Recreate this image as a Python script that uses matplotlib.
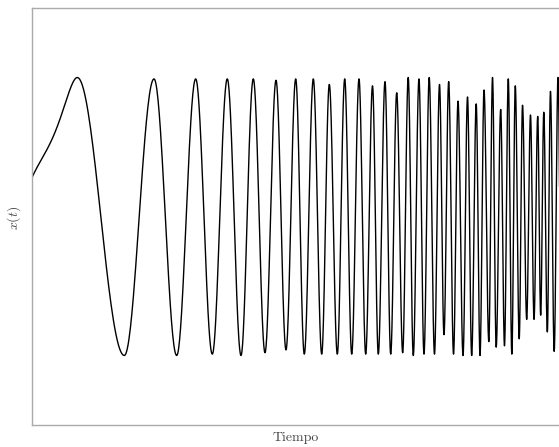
import numpy as np
import matplotlib
matplotlib.use("Agg")
import matplotlib.pyplot as plt

plt.rcParams["mathtext.fontset"] = "cm"
plt.rcParams["font.family"] = ["cmr10", "DejaVu Serif"]
plt.rcParams["axes.unicode_minus"] = False

# Opening rise of the signal: first two points
lead_t = [0.0, 0.24]
lead_x = [0.28, 0.475]

# Successive maxima / minima of the chirp: time and value
ext_t = [0.859, 1.750, 2.313, 2.743, 3.103, 3.418, 3.702, 3.962, 4.195, 4.417,
         4.626, 4.815, 4.999, 5.162, 5.333, 5.492, 5.636, 5.788, 5.928, 6.061,
         6.199, 6.326, 6.455, 6.565, 6.692, 6.800, 6.914, 7.027, 7.132, 7.228,
         7.336, 7.431, 7.530, 7.630, 7.725, 7.810, 7.899, 7.991, 8.076, 8.171,
         8.256, 8.335, 8.421, 8.493, 8.569, 8.660, 8.730, 8.800, 8.885, 8.957,
         9.029, 9.096, 9.162, 9.236, 9.299, 9.378, 9.450, 9.517, 9.587, 9.643,
         9.702, 9.769, 9.829, 9.899, 9.972, 10.038]
ext_x = [1.00, -1.00, 0.99, -1.00, 0.99, -0.99, 0.99, -1.00, 0.99, -0.98,
         0.98, -0.96, 0.99, -0.99, 0.99, -0.99, 0.95, -0.99, 0.99, -0.99,
         0.99, -0.99, 0.94, -0.99, 0.97, -0.99, 0.89, -0.98, 1.00, -1.00,
         0.99, -0.99, 1.00, -0.99, 0.95, -0.85, 0.97, -0.99, 0.83, -1.00,
         0.86, -1.00, 0.81, -1.00, 0.91, -0.90, 1.00, -0.94, 0.77, -0.93,
         0.99, -0.99, 0.94, -0.88, 0.80, -0.74, 0.73, -0.74, 0.72, -0.71,
         0.75, -0.83, 0.90, -0.97, 1.00, -0.95]

# Opening rise: one smooth cubic phase from the starting value up to pi/2
# at the first maximum; starting rate from the first two points, final
# rate equal to that of the following half cycle
p0 = np.arcsin(lead_x[0])
m0 = (np.arcsin(lead_x[1]) - p0) / (lead_t[1] - lead_t[0])
p1 = np.pi / 2
m1 = np.pi / (ext_t[1] - ext_t[0])
h = ext_t[0] - lead_t[0]
t_lead = np.linspace(lead_t[0], ext_t[0], 300)
u = (t_lead - lead_t[0]) / h
phase = ((1 + 2 * u) * (1 - u) ** 2 * p0 + u * (1 - u) ** 2 * h * m0
         + u ** 2 * (3 - 2 * u) * p1 + u ** 2 * (u - 1) * h * m1)
x_lead = np.sin(phase)

# Half-cosine swing between consecutive extrema
seg_t, seg_x = [t_lead], [x_lead]
s = np.linspace(0.0, 1.0, 40)[1:]
for i in range(len(ext_t) - 1):
    t0, t1 = ext_t[i], ext_t[i + 1]
    v0, v1 = ext_x[i], ext_x[i + 1]
    seg_t.append(t0 + (t1 - t0) * s)
    seg_x.append(v0 + (v1 - v0) * (1 - np.cos(np.pi * s)) / 2)
t = np.concatenate(seg_t)
x = np.concatenate(seg_x)

fig = plt.figure(figsize=(5.59, 4.47), dpi=100)
ax = fig.add_axes([32 / 559, 22 / 447, 527.5 / 559, 417 / 447])
ax.plot(t, x, color="black", lw=1.0)
ax.set_xlim(0, 10)
ax.set_ylim(-1.5, 1.5)
ax.set_xticks([])
ax.set_yticks([])
for sp in ax.spines.values():
    sp.set_color("#aaaaaa")
    sp.set_linewidth(1.0)

ax.set_xlabel("Tiempo", fontsize=10, color="#444444")
ax.set_ylabel(r"$x(t)$", fontsize=10, color="#444444")
ax.xaxis.set_label_coords(0.5, -0.017)
ax.yaxis.set_label_coords(-0.018, 0.496)

fig.savefig("out.png", dpi=100)
